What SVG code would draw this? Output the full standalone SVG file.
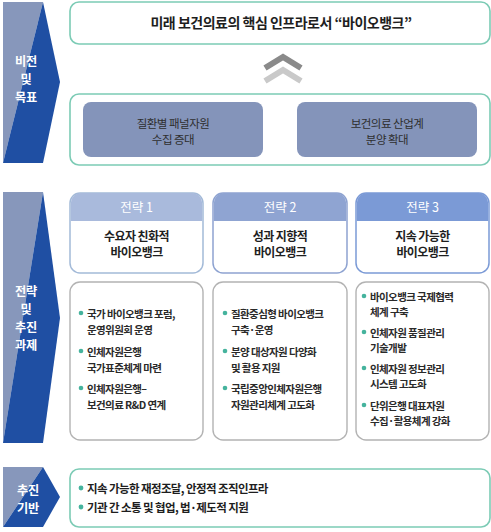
<svg xmlns="http://www.w3.org/2000/svg" width="491" height="532" viewBox="0 0 491 532">
<style>
text{font-family:"Noto Sans CJK KR","Noto Sans",sans-serif;}
.ban{fill:#fff;font-size:12.2px;font-weight:bold;text-anchor:middle;letter-spacing:-0.3px;}
.lt{fill:#8797bb;}
.dk{fill:#1f4fa3;}
.teal{fill:#fff;stroke:#7ccbb5;stroke-width:1.6;}
.goal{fill:#8494ba;}
.gt{fill:#2e2e2e;font-size:11.5px;text-anchor:middle;letter-spacing:-0.5px;}
.hd{fill:#fff;font-size:12.5px;text-anchor:middle;}
.st{fill:#1e1e1e;font-size:12px;font-weight:bold;text-anchor:middle;letter-spacing:-0.6px;}
.task{fill:#fff;stroke:#b3b3b3;stroke-width:1.4;}
.bt{fill:#2a2a2a;font-size:10.5px;font-weight:bold;letter-spacing:-0.6px;}
.dot{fill:#45b39d;}
.ft{fill:#1e1e1e;font-size:11.5px;font-weight:bold;letter-spacing:-0.6px;}
</style>

<g id="banner-vision">
<polygon class="lt" points="3,2 43,2 3,163"/>
<polygon class="dk" points="43,2 60,82 43,163 3,163"/>
<text class="ban" x="26" y="66">비전</text>
<text class="ban" x="26" y="84">및</text>
<text class="ban" x="26" y="102">목표</text>
</g>

<g id="banner-strategy">
<polygon class="lt" points="3,192 43,192 3,443"/>
<polygon class="dk" points="43,192 60,318 43,443 3,443"/>
<text class="ban" x="26" y="296">전략</text>
<text class="ban" x="26" y="314">및</text>
<text class="ban" x="26" y="332">추진</text>
<text class="ban" x="26" y="350">과제</text>
</g>

<g id="banner-base">
<polygon class="lt" points="3,467 43,467 3,527"/>
<polygon class="dk" points="43,467 60,497 43,527 3,527"/>
<text class="ban" x="28" y="495">추진</text>
<text class="ban" x="28" y="513">기반</text>
</g>

<g id="vision">
<rect class="teal" x="70" y="2" width="420" height="42" rx="9"/>
<text x="281" y="28" style="fill:#1e1e1e;font-size:14px;font-weight:bold;text-anchor:middle;letter-spacing:-0.5px">미래 보건의료의 핵심 인프라로서 “바이오뱅크”</text>
</g>

<g id="connectors">
<polyline points="265,68 283,57 301,68" fill="none" stroke="#8a8a8a" stroke-width="6"/>
<polyline points="265,81 283,70 301,81" fill="none" stroke="#c9c9c9" stroke-width="6"/>
</g>

<g id="goals">
<rect class="teal" x="70" y="94" width="420" height="71" rx="9"/>
<rect class="goal" x="83" y="102" width="180" height="55" rx="8"/>
<rect class="goal" x="297" y="102" width="180" height="55" rx="8"/>
<text class="gt" x="173" y="128">질환별 패널자원</text>
<text class="gt" x="173" y="144">수집 증대</text>
<text class="gt" x="387" y="128">보건의료 산업계</text>
<text class="gt" x="387" y="144">분양 확대</text>
</g>

<g id="strategy1">
<rect x="70" y="193" width="133" height="80" rx="10" fill="#fff" stroke="#a3bad8" stroke-width="1.5"/>
<path d="M70.8,221 V203 a10,10 0 0 1 10,-10 H192.2 a10,10 0 0 1 10,10 V221 Z" fill="#a9badc"/>
<text class="hd" x="136.5" y="212">전략 1</text>
<text class="st" x="136.5" y="241">수요자 친화적</text>
<text class="st" x="136.5" y="257">바이오뱅크</text>
</g>

<g id="strategy2">
<rect x="213" y="193" width="134" height="80" rx="10" fill="#fff" stroke="#8ea3d1" stroke-width="1.5"/>
<path d="M213.8,221 V203 a10,10 0 0 1 10,-10 H336.2 a10,10 0 0 1 10,10 V221 Z" fill="#8fa4d2"/>
<text class="hd" x="280" y="212">전략 2</text>
<text class="st" x="280" y="241">성과 지향적</text>
<text class="st" x="280" y="257">바이오뱅크</text>
</g>

<g id="strategy3">
<rect x="356" y="193" width="133" height="80" rx="10" fill="#fff" stroke="#7b9ad6" stroke-width="1.5"/>
<path d="M356.8,221 V203 a10,10 0 0 1 10,-10 H478.2 a10,10 0 0 1 10,10 V221 Z" fill="#7b9ad6"/>
<text class="hd" x="422.5" y="212">전략 3</text>
<text class="st" x="422.5" y="241">지속 가능한</text>
<text class="st" x="422.5" y="257">바이오뱅크</text>
</g>

<g id="tasks1">
<rect class="task" x="70" y="282" width="133" height="158" rx="10"/>
<circle class="dot" cx="81" cy="313" r="2.3"/>
<text class="bt" x="87" y="318">국가 바이오뱅크 포럼,</text>
<text class="bt" x="87" y="334">운영위원회 운영</text>
<circle class="dot" cx="81" cy="351" r="2.3"/>
<text class="bt" x="87" y="356">인체자원은행</text>
<text class="bt" x="87" y="372">국가표준체계 마련</text>
<circle class="dot" cx="81" cy="388" r="2.3"/>
<text class="bt" x="87" y="393">인체자원은행–</text>
<text class="bt" x="87" y="409">보건의료 R&amp;D 연계</text>
</g>

<g id="tasks2">
<rect class="task" x="213" y="282" width="134" height="158" rx="10"/>
<circle class="dot" cx="225" cy="313" r="2.3"/>
<text class="bt" x="231" y="318">질환중심형 바이오뱅크</text>
<text class="bt" x="231" y="334">구축·운영</text>
<circle class="dot" cx="225" cy="351" r="2.3"/>
<text class="bt" x="231" y="356">분양 대상자원 다양화</text>
<text class="bt" x="231" y="372">및 활용 지원</text>
<circle class="dot" cx="225" cy="388" r="2.3"/>
<text class="bt" x="231" y="393">국립중앙인체자원은행</text>
<text class="bt" x="231" y="409">자원관리체계 고도화</text>
</g>

<g id="tasks3">
<rect class="task" x="356" y="282" width="133" height="158" rx="10"/>
<circle class="dot" cx="364" cy="296" r="2.3"/>
<text class="bt" x="370" y="301">바이오뱅크 국제협력</text>
<text class="bt" x="370" y="316">체계 구축</text>
<circle class="dot" cx="364" cy="332" r="2.3"/>
<text class="bt" x="370" y="337">인체자원 품질관리</text>
<text class="bt" x="370" y="352">기술개발</text>
<circle class="dot" cx="364" cy="368" r="2.3"/>
<text class="bt" x="370" y="373">인체자원 정보관리</text>
<text class="bt" x="370" y="388">시스템 고도화</text>
<circle class="dot" cx="364" cy="405" r="2.3"/>
<text class="bt" x="370" y="410">단위은행 대표자원</text>
<text class="bt" x="370" y="425">수집·활용체계 강화</text>
</g>

<g id="base">
<rect class="teal" x="70" y="469" width="420" height="58" rx="9"/>
<circle class="dot" cx="81" cy="488" r="2.4"/>
<text class="ft" x="87" y="492.5">지속 가능한 재정조달, 안정적 조직인프라</text>
<circle class="dot" cx="81" cy="507" r="2.4"/>
<text class="ft" x="87" y="511.5">기관 간 소통 및 협업, 법·제도적 지원</text>
</g>
</svg>
